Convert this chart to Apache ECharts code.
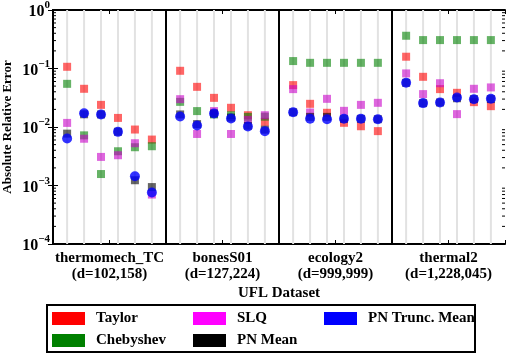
<!DOCTYPE html>
<html>
<head>
<meta charset="utf-8">
<script src="https://cdn.jsdelivr.net/npm/echarts@6/dist/echarts.min.js"></script>
<style>
  html, body { margin: 0; padding: 0; background: #fff; }
  #chart { width: 506px; height: 354px; }
</style>
</head>
<body>
<div id="chart"></div>
<script>
// datasets on the x axis, 6 settings per dataset
const datasets = ["thermomech_TC", "bonesS01", "ecology2", "thermal2"];
const dims = ["(d=102,158)", "(d=127,224)", "(d=999,999)", "(d=1,228,045)"];
const yTicks = [1e-4, 1e-3, 1e-2, 1e-1, 1];

const taylor = [
  0.107, 0.045, 0.0239, 0.0143, 0.00905, 0.0061,
  0.0914, 0.0486, 0.0315, 0.0213, 0.0159, 0.01225,
  0.052, 0.0249, 0.0175, 0.0118, 0.0103, 0.0085,
  0.159, 0.0721, 0.0444, 0.0384, 0.0266, 0.0227,
];
const chebyshev = [
  0.0547, 0.0072, 0.00157, 0.00385, 0.00451, 0.00469,
  0.0269, 0.0187, 0.0164, 0.0159, 0.0149, 0.015,
  0.134, 0.125, 0.125, 0.125, 0.125, 0.125,
  0.363, 0.306, 0.306, 0.306, 0.306, 0.306,
];
const slq = [
  0.01175, 0.0063, 0.00308, 0.00329, 0.00528, 0.0007,
  0.0299, 0.0076, 0.0187, 0.0076, 0.0132, 0.0159,
  0.0444, 0.0177, 0.0303, 0.0189, 0.0239, 0.0259,
  0.0824, 0.0365, 0.056, 0.0166, 0.045, 0.0475,
];
const pnMean = [
  0.0077, 0.0165, 0.0164, 0.0083, 0.00123, 0.00094,
  0.0164, 0.0112, 0.017, 0.0145, 0.0105, 0.009,
  0.0179, 0.0149, 0.0149, 0.0138, 0.0138, 0.0136,
  0.057, 0.0256, 0.0263, 0.031, 0.03, 0.03,
];
const pnTrunc = [
  0.00635, 0.0172, 0.0164, 0.00826, 0.00144, 0.00076,
  0.0151, 0.0106, 0.017, 0.014, 0.0102, 0.0085,
  0.0179, 0.0138, 0.0136, 0.0138, 0.0138, 0.0136,
  0.057, 0.0256, 0.0263, 0.032, 0.0299, 0.0303,
];

const FONT = "Liberation Serif";
const perGroup = 6;
// x position of a setting inside its dataset block
const slot = (i) => Math.floor(i / perGroup) + 0.5 + ((i % perGroup) - 2.5) * 0.15;
const slots = taylor.map((_, i) => slot(i));

const toPoints = (arr) => arr.map((v, i) => [slots[i], v]);

const chart = echarts.init(document.getElementById("chart"));

const vline = (color, width) => (params, api) => {
  const top = api.coord([api.value(0), yTicks[yTicks.length - 1]]);
  const bot = api.coord([api.value(0), yTicks[0]]);
  return {
    type: "line",
    shape: { x1: top[0], y1: top[1], x2: bot[0], y2: bot[1] },
    style: { stroke: color, lineWidth: width },
  };
};

// minor log ticks on left and right edges
const minorTicks = (params, api) => {
  const children = [];
  const l = api.coord([0, 1])[0];
  const r = api.coord([4, 1])[0];
  for (let k = 0; k < yTicks.length - 1; k++) {
    for (let m = 2; m <= 9; m++) {
      const y = api.coord([0, yTicks[k] * m])[1];
      children.push({ type: "line", shape: { x1: l, y1: y, x2: l + 3, y2: y }, style: { stroke: "#000", lineWidth: 1 } });
      children.push({ type: "line", shape: { x1: r - 3, y1: y, x2: r, y2: y }, style: { stroke: "#000", lineWidth: 1 } });
    }
  }
  return { type: "group", children };
};

const scatter = (name, arr, color, symbol, size) => ({
  name,
  type: "scatter",
  data: toPoints(arr),
  symbol,
  symbolSize: size,
  itemStyle: { color },
  z: 5,
  silent: true,
});

const axisLineStyle = { show: true, lineStyle: { color: "#000", width: 2 } };
const tickStyle = { show: true, inside: true, length: 5, lineStyle: { color: "#000", width: 1 } };

// one legend per entry so each patch keeps its own solid colour
const legendItem = (left, top, name, color) => ({
  orient: "vertical",
  left,
  top,
  padding: 0,
  itemWidth: 33,
  itemHeight: 13,
  icon: "rect",
  selectedMode: false,
  itemStyle: { color, opacity: 1 },
  textStyle: { fontFamily: FONT, fontWeight: "bold", fontSize: 15, color: "#000", padding: [0, 0, 0, 6] },
  data: [name],
});

const options = {
  animation: false,
  grid: { left: 53, right: 1, top: 10, bottom: 110, containLabel: false, outerBoundsMode: "none" },
  xAxis: [
    {
      type: "value",
      min: 0,
      max: 4,
      interval: 0.5,
      axisLine: axisLineStyle,
      axisTick: { ...tickStyle, length: 4 },
      splitLine: { show: false },
      axisLabel: {
        margin: 6,
        fontFamily: FONT,
        fontWeight: "bold",
        fontSize: 15,
        lineHeight: 16,
        color: "#000",
        formatter: (v) => {
          const g = Math.floor(v);
          return v - g === 0.5 ? datasets[g] + "\n" + dims[g] : "";
        },
      },
      name: "UFL Dataset",
      nameLocation: "middle",
      nameGap: 42,
      nameMoveOverlap: false,
      nameTextStyle: { fontFamily: FONT, fontWeight: "bold", fontSize: 15, color: "#000" },
    },
    {
      type: "value",
      position: "top",
      min: 0,
      max: 4,
      interval: 0.5,
      axisLine: axisLineStyle,
      axisTick: { ...tickStyle, length: 4 },
      axisLabel: { show: false },
      splitLine: { show: false },
    },
  ],
  yAxis: [
    {
      type: "log",
      logBase: 10,
      min: yTicks[0],
      max: yTicks[yTicks.length - 1],
      axisLine: axisLineStyle,
      axisTick: tickStyle,
      splitLine: { show: false },
      axisLabel: {
        margin: 3,
        formatter: (v) => {
          const e = Math.round(Math.log10(v));
          return "{b|10}{s|" + (e < 0 ? "\u2212" + -e : e) + "}";
        },
        rich: {
          b: { fontFamily: FONT, fontWeight: "bold", fontSize: 16, color: "#000", lineHeight: 20, verticalAlign: "bottom" },
          s: { fontFamily: FONT, fontWeight: "bold", fontSize: 11, color: "#000", verticalAlign: "top" },
        },
      },
      name: "Absolute Relative Error",
      nameLocation: "middle",
      nameGap: 39,
      nameMoveOverlap: false,
      nameTextStyle: { fontFamily: FONT, fontWeight: "bold", fontSize: 13, color: "#000" },
    },
    {
      type: "log",
      logBase: 10,
      position: "right",
      min: yTicks[0],
      max: yTicks[yTicks.length - 1],
      axisLine: axisLineStyle,
      axisTick: tickStyle,
      axisLabel: { show: false },
      splitLine: { show: false },
    },
  ],
  legend: [
    legendItem(52, 311, "Taylor", "#ff0000"),
    legendItem(52, 333, "Chebyshev", "#008000"),
    legendItem(193, 311, "SLQ", "#ff00ff"),
    legendItem(193, 333, "PN Mean", "#000000"),
    legendItem(324, 311, "PN Trunc. Mean", "#0000ff"),
  ],
  graphic: [
    {
      type: "rect",
      shape: { x: 47, y: 305, width: 428, height: 47 },
      style: { fill: "none", stroke: "#000", lineWidth: 2 },
    },
  ],
  series: [
    {
      type: "custom",
      renderItem: vline("#e2e2e2", 2),
      data: slots.map((x) => [x, 0.01]),
      z: 1,
      silent: true,
    },
    {
      type: "custom",
      renderItem: vline("#000", 2),
      data: datasets.slice(1).map((_, i) => [i + 1, 0.01]),
      z: 2,
      silent: true,
    },
    {
      type: "custom",
      renderItem: minorTicks,
      data: [[2, 0.01]],
      z: 2,
      silent: true,
    },
    scatter("Taylor", taylor, "rgba(255,0,0,0.75)", "rect", 8),
    scatter("Chebyshev", chebyshev, "rgba(0,128,0,0.75)", "rect", 8),
    scatter("SLQ", slq, "rgba(200,0,200,0.75)", "rect", 8),
    scatter("PN Mean", pnMean, "rgba(0,0,0,0.75)", "rect", 8),
    scatter("PN Trunc. Mean", pnTrunc, "#0000ff", "circle", 10),
  ],
};

chart.setOption(options);
</script>
</body>
</html>
